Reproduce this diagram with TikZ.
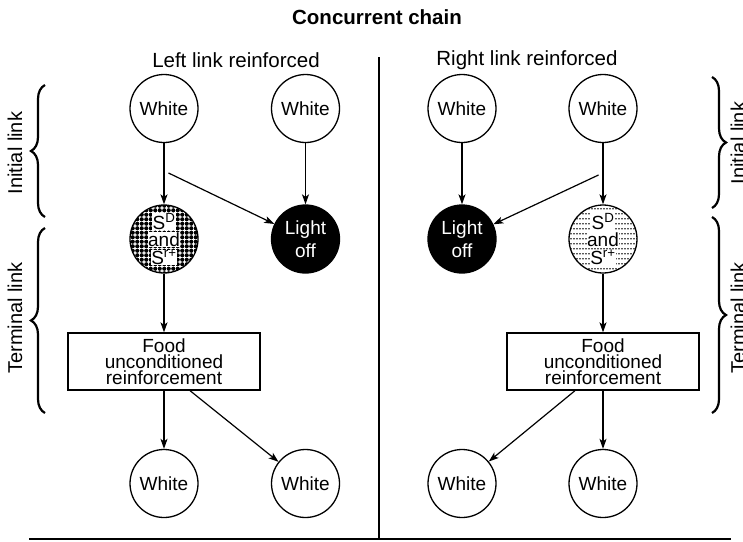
\documentclass[tikz,border=0pt]{standalone}
\usepackage{fontspec}
\setmainfont{Liberation Sans}
\usetikzlibrary{arrows.meta,patterns,decorations.pathreplacing}

% dark fill for the left S^D circle
\pgfdeclarepatternformonly{blackdots}{\pgfqpoint{-1pt}{-1pt}}{\pgfqpoint{5.5pt}{5.5pt}}{\pgfqpoint{4.5pt}{4.5pt}}{
  \pgfpathcircle{\pgfqpoint{2.25pt}{2.25pt}}{2.05pt}
  \pgfusepath{fill}}
% light fill for the right S^D circle
\pgfdeclarepatternformonly{griddots}{\pgfpointorigin}{\pgfqpoint{3pt}{5pt}}{\pgfqpoint{3pt}{5pt}}{
  \pgfpathrectangle{\pgfqpoint{0.6pt}{2pt}}{\pgfqpoint{1.4pt}{1.3pt}}
  \pgfusepath{fill}}

\newcommand{\wline}[1]{{\setlength{\fboxsep}{0.6pt}\colorbox{white}{#1}}}

\begin{document}
\begin{tikzpicture}[x=1pt,y=-1pt,
    state/.style={circle,draw,line width=1.3pt,minimum size=68pt,inner sep=0pt,
        align=center,font=\fontsize{19}{23}\selectfont},
    dark/.style={state,fill=black,text=white},
    cue/.style={state,font=\fontsize{19}{17.5}\selectfont},
    food/.style={draw,line width=1.3pt,minimum width=192pt,minimum height=57pt,
        inner sep=0pt,align=center,font=\fontsize{19}{16}\selectfont},
    link/.style={-{Stealth[length=10pt,width=7pt,inset=2.5pt]},line width=1.2pt},
    bracket/.style={decorate,decoration={brace,amplitude=14pt},line width=2.2pt},
    side/.style={rotate=90,font=\fontsize{20}{24}\selectfont}]

\useasboundingbox (0,0) rectangle (743,541);

\node[font=\fontsize{20.5}{24}\bfseries] (title) at (377,17) {Concurrent chain};
\node[font=\fontsize{20.5}{24}\selectfont] (lefthead) at (236,60) {Left link reinforced};
\node[font=\fontsize{20.5}{24}\selectfont] (righthead) at (527,60) {Right link reinforced};

% divider and base line
\coordinate (top) at (379,57);
\coordinate (base) at (379,539);
\coordinate (baseL) at (29,539);
\coordinate (baseR) at (731,539);
\draw[line width=1.5pt] (top) -- (base);
\draw[line width=1.5pt] (baseL) -- (baseR);

% white keys
\foreach \name/\x/\y in {wl1/164/108.5, wl2/305.5/108.5, wr1/462/108.5, wr2/603/108.5,
                         bl1/164/483.5, bl2/305.5/483.5, br1/462/483.5, br2/603/483.5}
    \node[state] (\name) at (\x,\y) {White};

% middle row
\node[cue,pattern=blackdots] (sdl) at (164,239)
    {\wline{S\textsuperscript{D}}\\\wline{and}\\\wline{S\textsuperscript{r+}}};
\node[dark] (offl) at (305.5,239) {Light\\off};
\node[dark] (offr) at (462,239) {Light\\off};
\node[cue,pattern=griddots] (sdr) at (603,239)
    {\wline{S\textsuperscript{D}}\\\wline{and}\\\wline{S\textsuperscript{r+}}};

\node[food] (foodl) at (164,361.5) {Food\\unconditioned\\reinforcement};
\node[food] (foodr) at (603,361.5) {Food\\unconditioned\\reinforcement};

% left link
\coordinate (forkl) at (168.5,173);
\draw[link] (wl1) -- (sdl);
\draw[link] (wl2) -- (offl);
\draw[link] (forkl) -- (offl);
\draw[link] (sdl) -- (foodl);
\draw[link] (foodl) -- (bl1);
\draw[link] ([xshift=26pt]foodl.south) -- (bl2);

% right link
\coordinate (forkr) at (598.5,175);
\draw[link] (wr1) -- (offr);
\draw[link] (wr2) -- (sdr);
\draw[link] (forkr) -- (offr);
\draw[link] (sdr) -- (foodr);
\draw[link] (foodr) -- (br2);
\draw[link] ([xshift=-28pt]foodr.south) -- (br1);

% braces
\draw[bracket] (45,217) -- (45,85);
\draw[bracket] (45,413) -- (45,228);
\draw[bracket] (712,77) -- (712,208);
\draw[bracket] (712,217) -- (712,413);

\node[side] (initl) at (15,153) {Initial link};
\node[side] (terml) at (15,318) {Terminal link};
\node[side] (initr) at (738,143) {Initial link};
\node[side] (termr) at (738,318) {Terminal link};

\end{tikzpicture}
\end{document}
